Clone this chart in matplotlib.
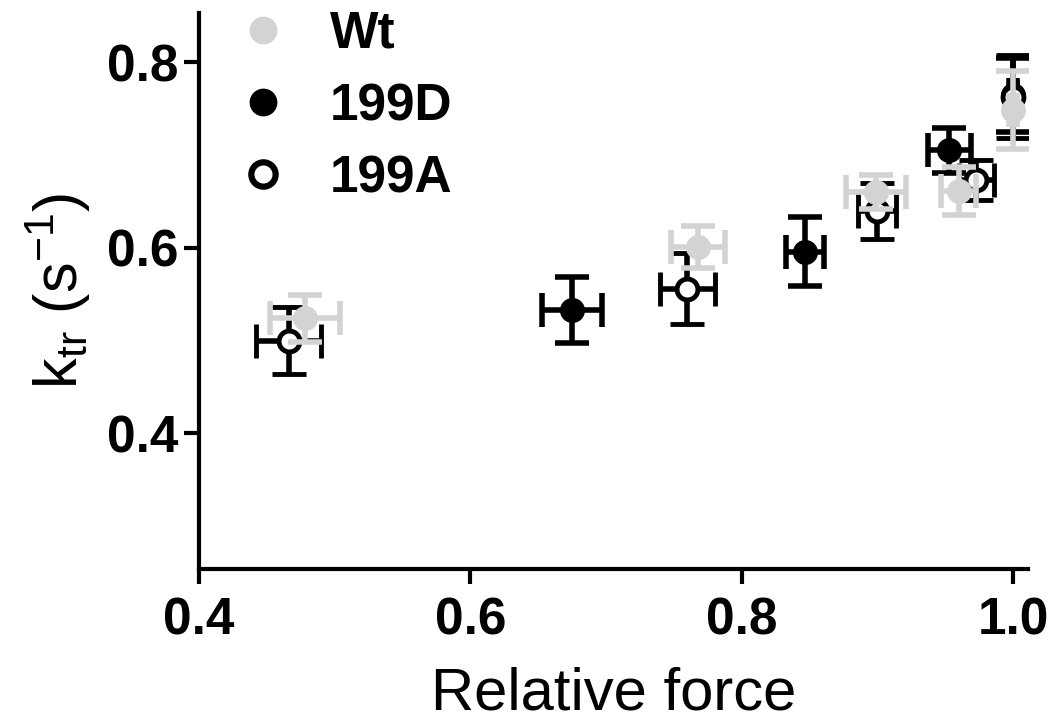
import numpy as np
import matplotlib
matplotlib.use("Agg")
import matplotlib.pyplot as plt
from matplotlib.lines import Line2D

plt.rcParams['font.family'] = ['Liberation Sans', 'DejaVu Sans']
plt.rcParams['mathtext.fontset'] = 'custom'
plt.rcParams['mathtext.rm'] = 'Liberation Sans'

# Values: relative force (x) vs ktr (y), with SEM in both directions
wt_force = [0.478, 0.768, 0.899, 0.960, 1.000]
wt_force_err = [0.026, 0.020, 0.022, 0.013, 0.003]
wt_ktr = [0.524, 0.601, 0.660, 0.661, 0.749]
wt_ktr_err = [0.025, 0.023, 0.018, 0.026, 0.042]

d_force = [0.675, 0.847, 0.953, 1.000]
d_force_err = [0.022, 0.014, 0.016, 0.003]
d_ktr = [0.533, 0.596, 0.705, 0.765]
d_ktr_err = [0.036, 0.037, 0.024, 0.040]

a_force = [0.466, 0.760, 0.900, 0.973, 1.000]
a_force_err = [0.024, 0.020, 0.014, 0.013, 0.003]
a_ktr = [0.500, 0.556, 0.640, 0.673, 0.763]
a_ktr_err = [0.036, 0.038, 0.030, 0.022, 0.045]

labels = ["Wt", "199D", "199A"]
grey = "#d3d3d3"

fig = plt.figure(figsize=(10.58, 7.22), dpi=100)
ax = fig.add_axes([199 / 1058, 1 - 569 / 722, (1028 - 199) / 1058, (569 - 13) / 722])

eb = dict(ls="none", elinewidth=4, capthick=4, capsize=12)
ax.errorbar(d_force, d_ktr, xerr=d_force_err, yerr=d_ktr_err, marker="o", ms=17,
            color="black", mfc="black", mec="black", zorder=2, **eb)
ax.errorbar(a_force, a_ktr, xerr=a_force_err, yerr=a_ktr_err, marker="o", ms=15, mew=3.5,
            color="black", mfc="white", mec="black", zorder=3, **eb)
# grey Wt sits on top of the mutants in the original
ax.errorbar(wt_force, wt_ktr, xerr=wt_force_err, yerr=wt_ktr_err, marker="o", ms=17,
            color=grey, mfc=grey, mec=grey, zorder=4, **eb)

ax.set_xlim(0.4, 1.011)
ax.set_ylim(0.254, 0.853)
ax.set_xticks([0.4, 0.6, 0.8, 1.0])
ax.set_yticks([0.4, 0.6, 0.8])
ax.set_xticklabels(["0.4", "0.6", "0.8", "1.0"])
ax.set_yticklabels(["0.4", "0.6", "0.8"])

for side in ["top", "right"]:
    ax.spines[side].set_visible(False)
for side in ["left", "bottom"]:
    ax.spines[side].set_linewidth(3)
ax.tick_params(width=3, length=11, labelsize=37)
ax.tick_params(axis="x", pad=9)
ax.tick_params(axis="y", pad=4)
for lab in ax.get_xticklabels() + ax.get_yticklabels():
    lab.set_fontweight("bold")

ax.set_xlabel("Relative force", fontsize=43, labelpad=15)
ax.set_ylabel(r"k$_{\mathrm{tr}}$ (s$^{\mathrm{-1}}$)", fontsize=44, labelpad=10)

handles = [
    Line2D([], [], ls="none", marker="o", ms=19, mfc=grey, mec=grey),
    Line2D([], [], ls="none", marker="o", ms=19, mfc="black", mec="black"),
    Line2D([], [], ls="none", marker="o", ms=17.5, mew=4.5, mfc="white", mec="black"),
]
leg = fig.legend(handles, labels, loc="upper left", bbox_to_anchor=(237 / 1058, 1 - 10 / 722),
                 frameon=False, fontsize=37, handlelength=1.0, handletextpad=0.8,
                 labelspacing=0.45, borderpad=0, borderaxespad=0)
for t in leg.get_texts():
    t.set_fontweight("bold")

fig.savefig("out.png", dpi=100)
